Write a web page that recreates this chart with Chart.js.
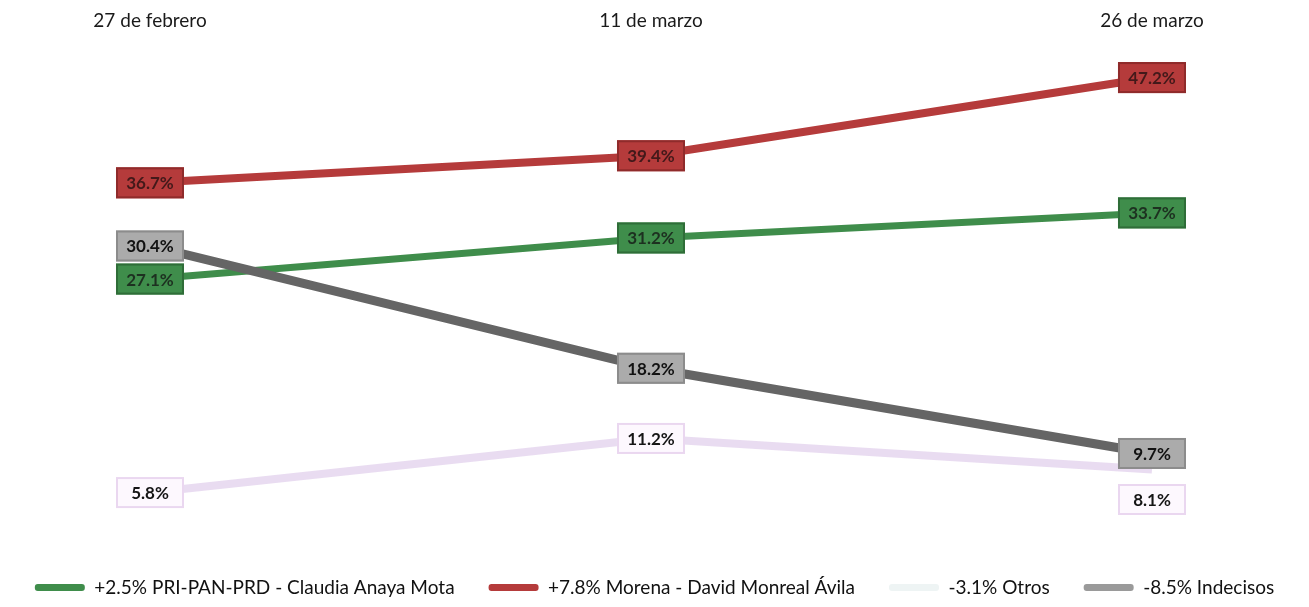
<!DOCTYPE html>
<html>
<head>
<meta charset="utf-8">
<script src="https://cdn.jsdelivr.net/npm/chart.js@4.4.1/dist/chart.umd.min.js"></script>
<style>
  html, body { margin: 0; padding: 0; background: #fff; }
  #wrap { width: 1309px; height: 607px; }
</style>
</head>
<body>
<div id="wrap"><canvas id="grafica" width="1309" height="607"></canvas></div>
<script>
// Datos
const fechas = ["27 de febrero", "11 de marzo", "26 de marzo"];
const priPanPrd = [27.1, 31.2, 33.7];
const morena = [36.7, 39.4, 47.2];
const otros = [5.8, 11.2, 8.1];
const indecisos = [30.4, 18.2, 9.7];
const nombres = [
  "+2.5% PRI-PAN-PRD - Claudia Anaya Mota",
  "+7.8% Morena - David Monreal Ávila",
  "-3.1% Otros",
  "-8.5% Indecisos"
];

// Estilo de las etiquetas de cada serie
const estiloEtiquetas = [
  { fondo: "#3f8d4b", borde: "#2f6d38", texto: "#1d3020" },
  { fondo: "#b53b3b", borde: "#8f2b2b", texto: "#43191a" },
  { fondo: "#fdf8fe", borde: "#ead7f0", texto: "#151515" },
  { fondo: "#ababab", borde: "#8c8c8c", texto: "#111111" }
];
// colores de la muestra de la leyenda
const coloresLeyenda = ["#3f8d4b", "#b53b3b", "#eef4f4", "#9a9a9a"];
// desplazamiento vertical de algunas etiquetas (solo 8.1% va debajo)
const desplazamiento = { 2: [0, 0, 30] };

// pasar a puntos {x, y} usando el índice de la fecha
const aPuntos = serie => serie.map((v, i) => ({ x: i, y: v }));

// Plugin para dibujar las cajitas con porcentajes
const etiquetasPlugin = {
  id: "etiquetas",
  afterDatasetsDraw(chart) {
    const ctx = chart.ctx;
    const ordenDibujo = [2, 0, 3, 1];
    ctx.save();
    ctx.font = "bold 17px Lato, 'DejaVu Sans', sans-serif";
    ctx.textAlign = "center";
    ctx.textBaseline = "middle";
    ordenDibujo.forEach(i => {
      const meta = chart.getDatasetMeta(i);
      const est = estiloEtiquetas[i];
      meta.data.forEach((p, j) => {
        const dy = desplazamiento[i] ? desplazamiento[i][j] : 0;
        const w = 68, h = 31;
        const x = p.x - w / 2;
        const y = p.y + dy - h / 2;
        ctx.fillStyle = est.fondo;
        ctx.fillRect(x, y, w, h);
        ctx.lineWidth = 2;
        ctx.strokeStyle = est.borde;
        ctx.strokeRect(x + 1, y + 1, w - 2, h - 2);
        ctx.fillStyle = est.texto;
        const valor = chart.data.datasets[i].data[j].y;
        ctx.fillText(valor.toFixed(1) + "%", p.x, p.y + dy + 1);
      });
    });
    ctx.restore();
  }
};

const ctx = document.getElementById("grafica").getContext("2d");

const grafica = new Chart(ctx, {
  type: "line",
  data: {
    datasets: [
      { label: nombres[0], data: aPuntos(priPanPrd), borderColor: "#3f8d4b", borderWidth: 7, order: 3 },
      { label: nombres[1], data: aPuntos(morena), borderColor: "#b53b3b", borderWidth: 8, order: 1 },
      { label: nombres[2], data: aPuntos(otros), borderColor: "rgba(218,196,232,0.6)", borderWidth: 8, order: 4 },
      { label: nombres[3], data: aPuntos(indecisos), borderColor: "#656565", borderWidth: 9, order: 2 }
    ]
  },
  options: {
    responsive: false,
    animation: false,
    layout: { padding: { left: 0, right: 0, top: 3, bottom: 0 } },
    elements: {
      point: { radius: 0, hoverRadius: 0 },
      line: { tension: 0, borderCapStyle: "butt" }
    },
    scales: {
      x: {
        type: "linear",
        position: "top",
        min: -0.2994,
        max: 2.3134,
        grid: { display: false },
        border: { display: false },
        afterBuildTicks: scale => {
          scale.ticks = fechas.map((f, i) => ({ value: i }));
        },
        ticks: {
          color: "#1a1a1a",
          padding: 6,
          font: { family: "Lato, 'DejaVu Sans', sans-serif", size: 19 },
          callback: v => fechas[v]
        }
      },
      y: {
        display: false,
        min: 0.67,
        max: 50.37
      }
    },
    plugins: {
      legend: {
        position: "bottom",
        labels: {
          boxWidth: 50,
          boxHeight: 7,
          useBorderRadius: true,
          borderRadius: 3,
          padding: 34,
          color: "#111",
          font: { family: "Lato, 'DejaVu Sans', sans-serif", size: 19 },
          sort: (a, b) => a.datasetIndex - b.datasetIndex,
          generateLabels: chart => Chart.defaults.plugins.legend.labels.generateLabels(chart).map(item => ({
            ...item,
            fillStyle: coloresLeyenda[item.datasetIndex],
            strokeStyle: coloresLeyenda[item.datasetIndex],
            lineWidth: 0
          }))
        }
      },
      tooltip: { enabled: false }
    }
  },
  plugins: [etiquetasPlugin]
});
</script>
</body>
</html>
